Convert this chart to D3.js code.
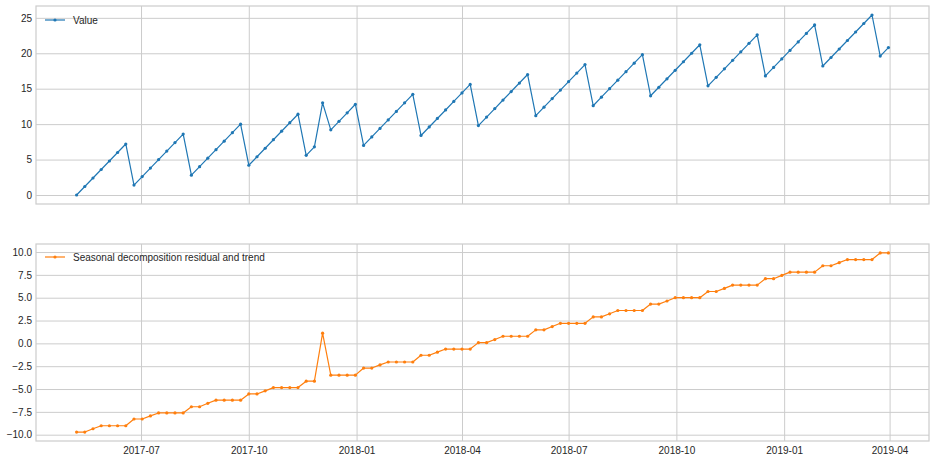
<!DOCTYPE html>
<html>
<head>
<meta charset="utf-8">
<script src="https://cdn.jsdelivr.net/npm/d3@7"></script>
<style>
  html, body { margin: 0; padding: 0; background: #ffffff; }
  svg { display: block; font-family: "Liberation Sans", Arial, sans-serif; }
</style>
</head>
<body>
<svg id="chart" width="936" height="462"></svg>
<script>
// ---- data ----
const startDate = "2017-05-07";   // first weekly observation (Sunday)
const stepDays = 7;

const valueSeries = [
  0.0, 1.2, 2.4, 3.6, 4.8, 6.0, 7.2,
  1.4, 2.6, 3.8, 5.0, 6.2, 7.4, 8.6,
  2.8, 4.0, 5.2, 6.4, 7.6, 8.8, 10.0,
  4.2, 5.4, 6.6, 7.8, 9.0, 10.2, 11.4,
  5.6, 6.8, 13.0, 9.2, 10.4, 11.6, 12.8,
  7.0, 8.2, 9.4, 10.6, 11.8, 13.0, 14.2,
  8.4, 9.6, 10.8, 12.0, 13.2, 14.4, 15.6,
  9.8, 11.0, 12.2, 13.4, 14.6, 15.8, 17.0,
  11.2, 12.4, 13.6, 14.8, 16.0, 17.2, 18.4,
  12.6, 13.8, 15.0, 16.2, 17.4, 18.6, 19.8,
  14.0, 15.2, 16.4, 17.6, 18.8, 20.0, 21.2,
  15.4, 16.6, 17.8, 19.0, 20.2, 21.4, 22.6,
  16.8, 18.0, 19.2, 20.4, 21.6, 22.8, 24.0,
  18.2, 19.4, 20.6, 21.8, 23.0, 24.2, 25.4,
  19.6, 20.8
];

const residTrendSeries = [
  -9.71, -9.71, -9.35, -9.02, -9.02, -9.02, -9.02,
  -8.28, -8.28, -7.94, -7.62, -7.62, -7.62, -7.62,
  -6.94, -6.94, -6.56, -6.22, -6.22, -6.22, -6.22,
  -5.54, -5.54, -5.20, -4.84, -4.84, -4.84, -4.84,
  -4.14, -4.14, 1.12, -3.48, -3.48, -3.48, -3.48,
  -2.70, -2.70, -2.36, -2.04, -2.04, -2.04, -2.04,
  -1.30, -1.30, -0.96, -0.62, -0.62, -0.62, -0.62,
  0.08, 0.08, 0.42, 0.78, 0.78, 0.78, 0.78,
  1.48, 1.48, 1.84, 2.20, 2.20, 2.20, 2.20,
  2.90, 2.90, 3.24, 3.60, 3.60, 3.60, 3.60,
  4.30, 4.30, 4.64, 5.00, 5.00, 5.00, 5.00,
  5.68, 5.68, 6.02, 6.38, 6.38, 6.38, 6.38,
  7.08, 7.08, 7.44, 7.80, 7.80, 7.80, 7.80,
  8.50, 8.50, 8.84, 9.18, 9.18, 9.18, 9.18,
  9.90, 9.90
];

const xTickLabels = ["2017-07", "2017-10", "2018-01", "2018-04", "2018-07", "2018-10", "2019-01", "2019-04"];
const topYTicks = [0, 5, 10, 15, 20, 25];
const bottomYTicks = [-10, -7.5, -5, -2.5, 0, 2.5, 5, 7.5, 10];
const seriesNames = ["Value", "Seasonal decomposition residual and trend"];
const seriesColors = ["#1f77b4", "#ff7f0e"];

// ---- layout ----
const svg = d3.select("#chart");
const left = 36, right = 929;
const panels = [
  { top: 6, bottom: 204, values: valueSeries, ticks: topYTicks, fmt: d3.format("d"), showX: false },
  { top: 244, bottom: 441, values: residTrendSeries, ticks: bottomYTicks, fmt: d3.format(".1f"), showX: true }
];

const parse = d3.utcParse("%Y-%m-%d");
const t0 = parse(startDate);
const dates = valueSeries.map((_, i) => d3.utcDay.offset(t0, stepDays * i));
const xTicks = xTickLabels.map(s => d3.utcParse("%Y-%m")(s));

const tMin = +dates[0], tMax = +dates[dates.length - 1];
const tPad = (tMax - tMin) * 0.05;
const x = d3.scaleUtc().domain([new Date(tMin - tPad), new Date(tMax + tPad)]).range([left, right]);

const gridColor = "#cccccc";
const textColor = "#262626";
const minus = s => s.replace("-", "\u2212");

panels.forEach((p, k) => {
  const lo = d3.min(p.values), hi = d3.max(p.values);
  const pad = (hi - lo) * 0.05;
  const y = d3.scaleLinear().domain([lo - pad, hi + pad]).range([p.bottom, p.top]);
  const g = svg.append("g");

  // background
  g.append("rect").attr("x", left).attr("y", p.top)
    .attr("width", right - left).attr("height", p.bottom - p.top).attr("fill", "#ffffff");

  // y grid + labels
  const yAxis = d3.axisLeft(y).tickValues(p.ticks).tickSize(-(right - left)).tickPadding(4)
    .tickFormat(d => minus(p.fmt(d)));
  const ya = g.append("g").attr("transform", `translate(${left},0)`).call(yAxis);
  ya.select(".domain").remove();
  ya.selectAll("line").attr("stroke", gridColor).attr("stroke-width", 1);
  ya.selectAll("text").attr("fill", textColor).style("font-size", "10px")
    .style("font-family", "'Liberation Sans', Arial, sans-serif");

  // x grid (+ labels on bottom panel)
  const xAxis = d3.axisBottom(x).tickValues(xTicks).tickSize(-(p.bottom - p.top)).tickPadding(6)
    .tickFormat(p.showX ? d3.utcFormat("%Y-%m") : () => "");
  const xa = g.append("g").attr("transform", `translate(0,${p.bottom})`).call(xAxis);
  xa.select(".domain").remove();
  xa.selectAll("line").attr("stroke", gridColor).attr("stroke-width", 1);
  xa.selectAll("text").attr("fill", textColor).style("font-size", "10px")
    .style("font-family", "'Liberation Sans', Arial, sans-serif");

  // frame
  g.append("rect").attr("x", left).attr("y", p.top)
    .attr("width", right - left).attr("height", p.bottom - p.top)
    .attr("fill", "none").attr("stroke", gridColor).attr("stroke-width", 1.2);

  // series
  const pts = p.values.map((v, i) => [dates[i], v]);
  const line = d3.line().x(d => x(d[0])).y(d => y(d[1]));
  g.append("path").datum(pts).attr("d", line)
    .attr("fill", "none").attr("stroke", seriesColors[k]).attr("stroke-width", 1.2)
    .attr("stroke-linejoin", "round");
  g.append("g").selectAll("circle").data(pts).join("circle")
    .attr("cx", d => x(d[0])).attr("cy", d => y(d[1])).attr("r", 1.6)
    .attr("fill", seriesColors[k]);

  // legend
  const ly = p.top + (k === 0 ? 14 : 13);
  const lg = g.append("g");
  lg.append("line").attr("x1", 45).attr("x2", 65).attr("y1", ly).attr("y2", ly)
    .attr("stroke", seriesColors[k]).attr("stroke-width", 1.2);
  lg.append("circle").attr("cx", 55).attr("cy", ly).attr("r", 1.6).attr("fill", seriesColors[k]);
  lg.append("text").attr("x", 73).attr("y", ly).attr("dy", "0.35em")
    .attr("fill", textColor).style("font-size", "10px").text(seriesNames[k]);
});
</script>
</body>
</html>
